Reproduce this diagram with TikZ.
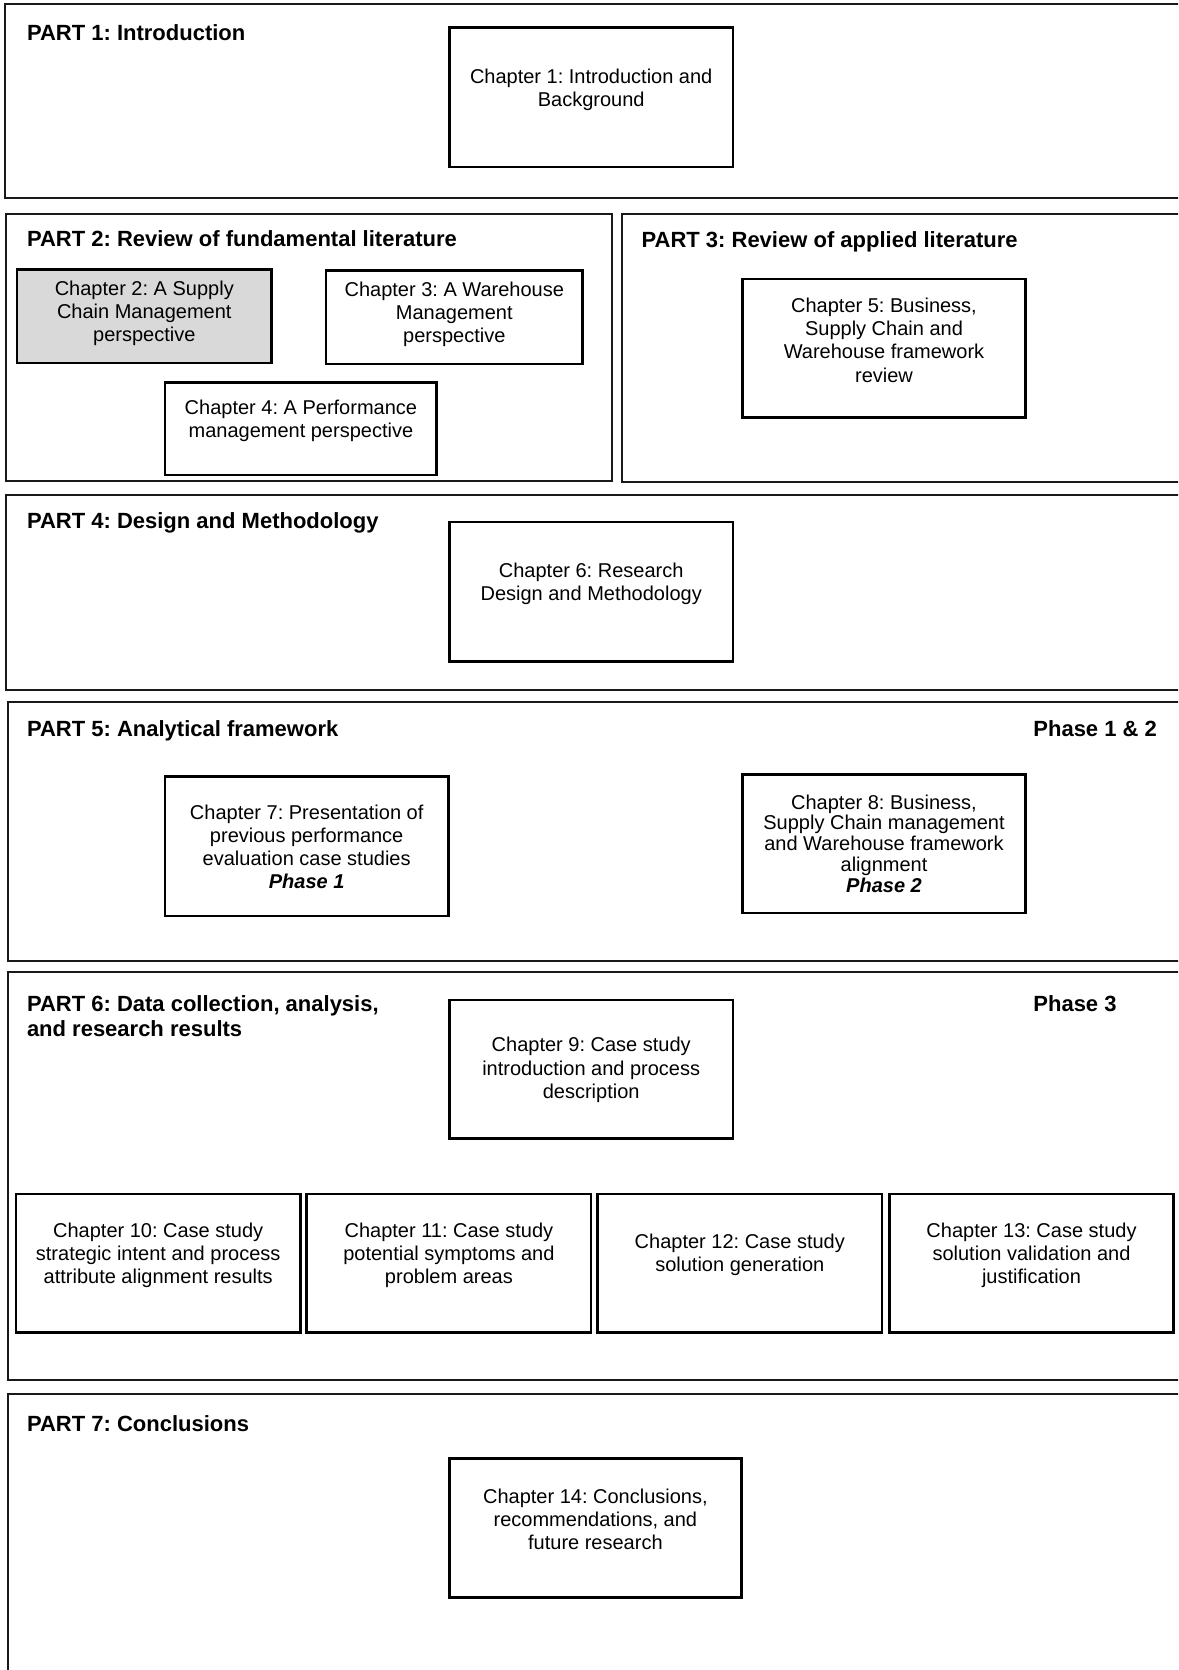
\documentclass[tikz,border=0pt]{standalone}
\usepackage{fontspec}
\setmainfont{Liberation Sans}
\usetikzlibrary{fit}
\frenchspacing
\begin{document}
\begin{tikzpicture}[x=0.5pt,y=-0.5pt,
  partbox/.style={draw=black!90,line width=1pt,inner sep=0pt},
  chapbox/.style={draw=black,line width=1.25pt,inner sep=0pt},
  chaptext/.style={align=center,inner sep=0pt,font=\fontsize{10}{11.6}\selectfont},
  parttitle/.style={anchor=base west,inner sep=0pt,font=\fontsize{11}{12.8}\selectfont\bfseries}]
\useasboundingbox (0,0) rectangle (1178,1670);
\clip (0,0) rectangle (1178,1670);
\fill[white] (0,0) rectangle (1178,1670);

% part frames (right edges run past the page)
\node[partbox,fit={(5,4) (1195,198)}] (p1) {};
\node[partbox,fit={(6.4,214) (612.4,481.4)}] (p2) {};
\node[partbox,fit={(622,214) (1195,482)}] (p3) {};
\node[partbox,fit={(6.4,495.3) (1195,690.2)}] (p4) {};
\node[partbox,fit={(7.5,702) (1195,960.7)}] (p5) {};
\node[partbox,fit={(7.5,972.4) (1195,1380.4)}] (p6) {};
\node[partbox,fit={(7.5,1394.2) (1195,1690)}] (p7) {};

% part titles
\node[parttitle] (tp1) at (26.6,40) {PART 1: Introduction};
\node[parttitle] (tp2) at (26.6,246.6) {PART 2: Review of fundamental literature};
\node[parttitle] (tp3) at (641.2,247.6) {PART 3: Review of applied literature};
\node[parttitle] (tp4) at (26.6,528.8) {PART 4: Design and Methodology};
\node[parttitle] (tp5) at (26.6,736.5) {PART 5: Analytical framework};
\node[parttitle] (ph12) at (1033,736.5) {Phase 1 \& 2};
\node[parttitle,align=left] (tp6) at (26.6,1036.9) {PART 6: Data collection, analysis,\\and research results};
\node[parttitle] (ph3) at (1033,1011.3) {Phase 3};
\node[parttitle] (tp7) at (26.6,1431) {PART 7: Conclusions};

% chapter boxes
\node[chapbox,fit={(449.5,27.7) (732.8,167.2)}] (c1) {};
\node[chapbox,fill=black!15,fit={(17,269.5) (271.6,363.2)}] (c2) {};
\node[chapbox,fit={(326,270.5) (582.6,364)}] (c3) {};
\node[chapbox,fit={(165,382.4) (436.7,475)}] (c4) {};
\node[chapbox,fit={(742.4,279) (1025.7,417.5)}] (c5) {};
\node[chapbox,fit={(449.5,522) (732.8,661.4)}] (c6) {};
\node[chapbox,fit={(165,776.5) (448.4,916)}] (c7) {};
\node[chapbox,fit={(742.4,774.3) (1025.7,912.8)}] (c8) {};
\node[chapbox,fit={(449.5,1000) (732.8,1138.6)}] (c9) {};
\node[chapbox,fit={(16,1194) (300.4,1332.4)}] (c10) {};
\node[chapbox,fit={(306.7,1194) (591.1,1332.4)}] (c11) {};
\node[chapbox,fit={(597.5,1194) (882,1332.4)}] (c12) {};
\node[chapbox,fit={(889.3,1194) (1173.7,1332.4)}] (c13) {};
\node[chapbox,fit={(449.5,1458.3) (741.3,1597.7)}] (c14) {};

% chapter texts
\node[chaptext] (t1) at (591.2,89.5) {Chapter 1: Introduction and\\Background};
\node[chaptext,font=\fontsize{10}{11.45}\selectfont] (t2) at (144.3,313.4) {Chapter 2: A Supply\\Chain Management\\perspective};
\node[chaptext,font=\fontsize{10}{11.45}\selectfont] (t3) at (454.3,314.5) {Chapter 3: A Warehouse\\Management\\perspective};
\node[chaptext] (t4) at (300.9,420.7) {Chapter 4: A Performance\\management perspective};
\node[chaptext] (t5) at (884,340.2) {Chapter 5: Business,\\Supply Chain and\\Warehouse framework\\review};
\node[chaptext] (t6) at (591.2,583.7) {Chapter 6: Research\\Design and Methodology};
\node[chaptext] (t7) at (306.7,846.7) {Chapter 7: Presentation of\\previous performance\\evaluation case studies\\\textbf{\textit{Phase 1}}};
\node[chaptext,font=\fontsize{10}{10.4}\selectfont] (t8) at (884,843.6) {Chapter 8: Business,\\Supply Chain management\\and Warehouse framework\\alignment\\\textbf{\textit{Phase 2}}};
\node[chaptext] (t9) at (591.2,1070) {Chapter 9: Case study\\introduction and process\\description};
\node[chaptext] (t10) at (158.2,1255.3) {Chapter 10: Case study\\strategic intent and process\\attribute alignment results};
\node[chaptext] (t11) at (448.9,1255.3) {Chapter 11: Case study\\potential symptoms and\\problem areas};
\node[chaptext] (t12) at (739.8,1255.2) {Chapter 12: Case study\\solution generation};
\node[chaptext] (t13) at (1031.5,1255.3) {Chapter 13: Case study\\solution validation and\\justification};
\node[chaptext] (t14) at (595.4,1519.6) {Chapter 14: Conclusions,\\recommendations, and\\future research};
\end{tikzpicture}
\end{document}
